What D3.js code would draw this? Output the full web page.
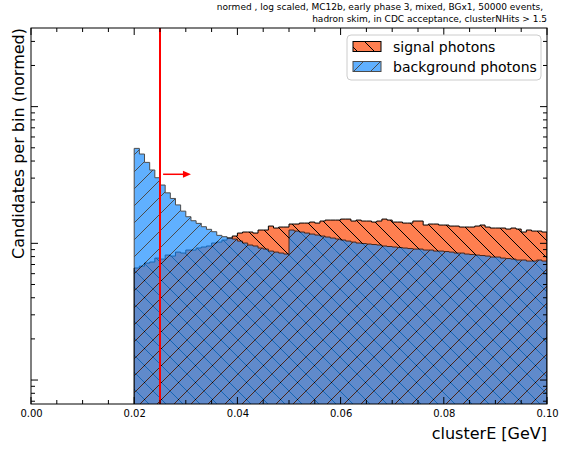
<!DOCTYPE html>
<html><head><meta charset="utf-8">
<script src="https://cdn.jsdelivr.net/npm/d3@7"></script>
<style>body{margin:0;background:#fff}svg{display:block}text{font-family:"DejaVu Sans",sans-serif}</style>
</head><body><div id="chart"></div>
<script>
const binStart = 0.020, binWidth = 0.001;
const signal = [6.60,6.81,7.17,7.30,7.80,7.67,8.21,8.07,8.63,8.49,
 8.93,8.93,9.24,9.40,9.56,10.05,10.22,10.57,10.93,11.31,
 11.89,12.10,12.10,11.89,12.51,12.51,13.38,12.94,13.16,13.16,
 13.84,13.84,14.07,14.07,14.31,14.07,14.56,14.80,14.80,14.80,
 15.05,15.05,14.56,14.80,14.56,14.56,14.31,14.56,15.05,14.80,
 14.31,14.31,14.07,14.07,14.56,14.56,13.61,13.84,13.84,13.61,
 13.61,13.38,13.38,13.16,13.16,13.16,13.38,13.61,13.16,12.94,
 12.94,12.94,12.72,12.94,12.72,12.10,12.51,12.30,12.30,12.10];
const background = [49.5,45.0,39.1,34.4,30.2,26.7,23.4,21.3,19.1,17.2,
 15.65,14.63,14.0,13.23,12.66,12.16,11.44,11.18,10.93,10.75,
 10.39,10.05,9.72,9.56,9.24,9.08,8.78,8.63,8.49,8.35,
 12.51,12.30,12.10,11.89,11.69,11.50,11.31,11.12,10.93,10.75,
 10.57,10.39,10.22,10.05,9.97,9.88,9.80,9.72,9.56,9.48,
 9.40,9.32,9.24,9.16,9.08,9.08,8.93,8.93,8.78,8.78,
 8.71,8.63,8.49,8.49,8.35,8.28,8.21,8.14,8.07,7.94,
 7.94,7.80,7.74,7.67,7.55,7.55,7.42,7.42,7.55,7.42];
const xTicks = [0.00,0.02,0.04,0.06,0.08,0.10];
const cutValue = 0.025;
const arrowSpan = [0.0256, 0.031];
const arrowLevel = 32;
const seriesNames = ["signal photons","background photons"];
const titleLines = ["normed , log scaled, MC12b, early phase 3, mixed, BGx1, 50000 events,",
                    "hadron skim, in CDC acceptance, clusterNHits > 1.5"];
const xLabel = "clusterE [GeV]";
const yLabel = "Candidates per bin (normed)";

const W = 567, H = 449;
const L = 31, R = 547, T = 28, B = 404;
const svg = d3.select("#chart").append("svg").attr("width", W).attr("height", H);
const x = d3.scaleLinear().domain([0, 0.1]).range([L, R]);
const y = d3.scaleLog().domain([0.668, 376]).range([B, T]);

const defs = svg.append("defs");
defs.append("clipPath").attr("id","plotclip").append("rect")
  .attr("x", L).attr("y", T).attr("width", R-L).attr("height", B-T);
const hs = 17;
function hatch(id, dir) {
  const p = defs.append("pattern").attr("id", id).attr("patternUnits","userSpaceOnUse")
    .attr("width", hs).attr("height", hs);
  const d = dir === "/" ?
    `M0,${hs} L${hs},0 M${-hs/2},${hs/2} L${hs/2},${-hs/2} M${hs/2},${hs*1.5} L${hs*1.5},${hs/2}` :
    `M0,0 L${hs},${hs} M${-hs/2},${hs/2} L${hs/2},${hs*1.5} M${hs/2},${-hs/2} L${hs*1.5},${hs/2}`;
  p.append("path").attr("d", d).attr("stroke","#000").attr("stroke-width",1).attr("fill","none");
}
hatch("hatchBack","\\");
hatch("hatchFwd","/");

function stepData(vals) {
  const pts = vals.map((v,i) => ({e: binStart + i*binWidth, v}));
  pts.push({e: binStart + vals.length*binWidth, v: vals[vals.length-1]});
  return pts;
}
const area = d3.area().x(d => x(d.e)).y0(B + 20).y1(d => y(d.v)).curve(d3.curveStepAfter);

const plot = svg.append("g").attr("clip-path","url(#plotclip)");
const sig = plot.append("g");
sig.append("path").attr("d", area(stepData(signal))).attr("fill","#ff7f50");
sig.append("path").attr("d", area(stepData(signal))).attr("fill","url(#hatchBack)");
sig.append("path").attr("d", area(stepData(signal))).attr("fill","none").attr("stroke","#000").attr("stroke-width",1);
const bkg = plot.append("g").attr("opacity",0.7);
bkg.append("path").attr("d", area(stepData(background))).attr("fill","#1e90ff");
bkg.append("path").attr("d", area(stepData(background))).attr("fill","url(#hatchFwd)");
bkg.append("path").attr("d", area(stepData(background))).attr("fill","none").attr("stroke","#000").attr("stroke-width",1);

svg.append("line").attr("x1", x(cutValue)).attr("x2", x(cutValue)).attr("y1", T).attr("y2", B)
  .attr("stroke","#ff0000").attr("stroke-width",2);
const ay = y(arrowLevel);
svg.append("line").attr("x1", x(arrowSpan[0])).attr("x2", x(arrowSpan[1]) - 6).attr("y1", ay).attr("y2", ay)
  .attr("stroke","#ff0000").attr("stroke-width",1.5);
svg.append("path").attr("d", `M${x(arrowSpan[1])},${ay} L${x(arrowSpan[1])-8},${ay-3.5} L${x(arrowSpan[1])-8},${ay+3.5} Z`)
  .attr("fill","#ff0000");

svg.append("rect").attr("x", L).attr("y", T).attr("width", R-L).attr("height", B-T)
  .attr("fill","none").attr("stroke","#000").attr("stroke-width",1);

const axG = svg.append("g");
const xMinor = d3.range(0, 0.1001, 0.005);
xMinor.forEach(v => {
  const major = xTicks.some(t => Math.abs(t - v) < 1e-9);
  const len = major ? 7 : 4;
  axG.append("line").attr("x1", x(v)).attr("x2", x(v)).attr("y1", B).attr("y2", B - len).attr("stroke","#000");
  axG.append("line").attr("x1", x(v)).attr("x2", x(v)).attr("y1", T).attr("y2", T + len).attr("stroke","#000");
});
const xAxis = d3.axisBottom(x).tickValues(xTicks).tickFormat(d3.format(".2f")).tickSize(0).tickPadding(6);
const xa = svg.append("g").attr("transform", `translate(0,${B})`).call(xAxis);
xa.select(".domain").remove();
xa.selectAll("text").attr("font-size", 10).attr("font-family","DejaVu Sans").attr("fill","#000");

const yTickVals = [];
for (let k = -1; k <= 2; k++) for (let m = 1; m <= 9; m++) {
  const v = m * Math.pow(10, k);
  if (v >= 0.668 && v <= 376) yTickVals.push({v, major: m === 1});
}
yTickVals.forEach(t => {
  const len = t.major ? 7 : 4;
  const yy = y(t.v);
  axG.append("line").attr("x1", L).attr("x2", L + len).attr("y1", yy).attr("y2", yy).attr("stroke","#000");
  axG.append("line").attr("x1", R).attr("x2", R - len).attr("y1", yy).attr("y2", yy).attr("stroke","#000");
});

svg.append("text").attr("x", R).attr("y", 439).attr("text-anchor","end").attr("font-size",16).text(xLabel);
svg.append("text").attr("transform", `translate(24,${T}) rotate(-90)`).attr("text-anchor","end")
  .attr("font-size",16).text(yLabel);
svg.append("text").attr("x", R - 4).attr("y", 10).attr("text-anchor","end").attr("font-size",9).text(titleLines[0]);
svg.append("text").attr("x", R).attr("y", 22).attr("text-anchor","end").attr("font-size",9).text(titleLines[1]);

const lg = svg.append("g");
lg.append("rect").attr("x", 347).attr("y", 35).attr("width", 194).attr("height", 45).attr("rx", 4)
  .attr("fill","#fff").attr("fill-opacity",0.8).attr("stroke","#cccccc");
const legendRows = [
  {name: seriesNames[0], fill: "#ff7f50", hatch: "url(#hatchBack)", op: 1},
  {name: seriesNames[1], fill: "#1e90ff", hatch: "url(#hatchFwd)", op: 0.7}
];
legendRows.forEach((r, i) => {
  const yy = 41.5 + i * 20;
  const g = lg.append("g").attr("opacity", r.op);
  g.append("rect").attr("x", 353).attr("y", yy).attr("width", 28).attr("height", 10).attr("fill", r.fill);
  g.append("rect").attr("x", 353).attr("y", yy).attr("width", 28).attr("height", 10).attr("fill", r.hatch);
  g.append("rect").attr("x", 353).attr("y", yy).attr("width", 28).attr("height", 10).attr("fill","none").attr("stroke","#000");
  lg.append("text").attr("x", 393).attr("y", yy + 10).attr("font-size", 14).text(r.name);
});
</script></body></html>
